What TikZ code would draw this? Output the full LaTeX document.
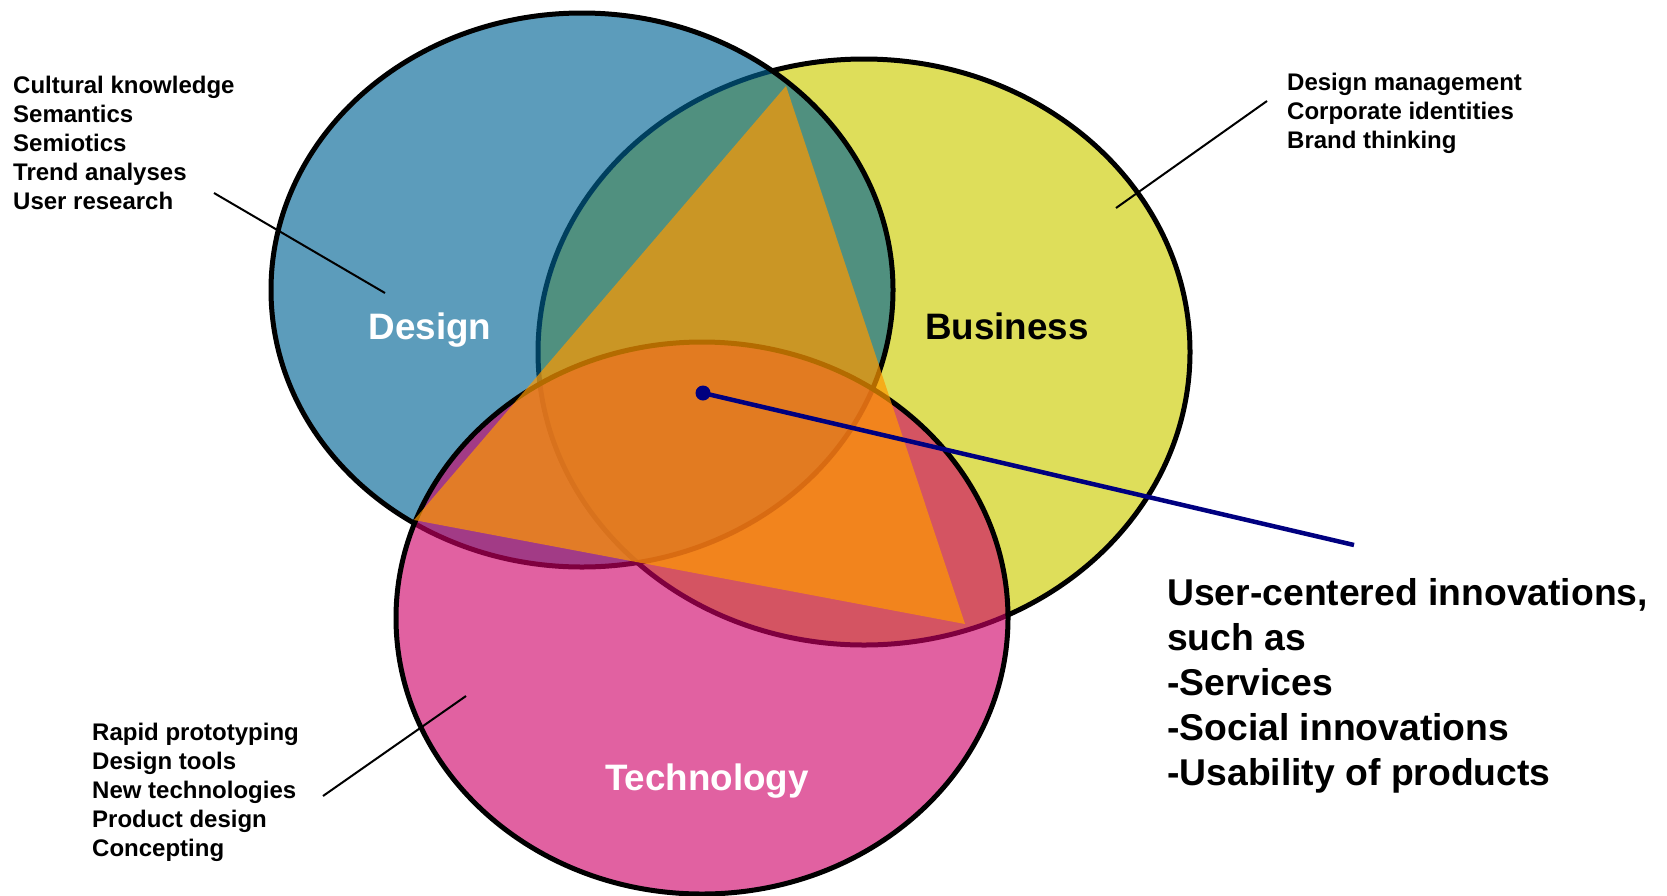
\documentclass[tikz,border=0pt]{standalone}
\usepackage{fontspec}
\setmainfont{Liberation Sans}
\definecolor{dsgn}{RGB}{0,100,148}
\definecolor{busn}{RGB}{222,222,90}
\definecolor{tech}{RGB}{206,0,103}
\definecolor{tri}{RGB}{255,153,0}
\definecolor{navy}{RGB}{0,0,128}
\tikzset{
  outline/.style={draw=black, line width=5pt},
  leader/.style={draw=black, line width=2pt},
  smalltxt/.style={anchor=north west, inner sep=0pt, align=left, font=\fontsize{24}{29}\selectfont\bfseries},
  bigtxt/.style={anchor=north west, inner sep=0pt, align=left, font=\fontsize{37.3}{45}\selectfont\bfseries},
  label/.style={inner sep=0pt, font=\fontsize{36.8}{44}\selectfont\bfseries}
}
\begin{document}
\begin{tikzpicture}[x=1pt, y=-1pt]
\useasboundingbox (0,0) rectangle (1667,895);
% circles
\path[outline, fill=busn] (864,352) ellipse [x radius=326pt, y radius=293pt];
\path[fill=dsgn, fill opacity=0.64] (582,290) ellipse [x radius=311pt, y radius=277pt];
\path[outline] (582,290) ellipse [x radius=311pt, y radius=277pt];
\path[fill=tech, fill opacity=0.62] (702,618) ellipse [x radius=306pt, y radius=276pt];
\path[outline] (702,618) ellipse [x radius=306pt, y radius=276pt];
% triangle
\coordinate (t1) at (786,86);
\coordinate (t2) at (414,520);
\coordinate (t3) at (965,624);
\fill[tri, fill opacity=0.7] (t1) -- (t2) -- (t3) -- cycle;
% labels
\node[label, text=white] (ldesign) at (430,330) {Design};
\node[label, text=black] (lbusiness) at (1007,326) {Business};
\node[label, text=white] (ltech) at (707,781) {Technology};
% text blocks
\node[smalltxt] (tdesign) at (13,76) {Cultural knowledge\\Semantics\\Semiotics\\Trend analyses\\User research};
\node[smalltxt] (tbusiness) at (1287,73) {Design management\\Corporate identities\\Brand thinking};
\node[smalltxt] (ttech) at (92,723) {Rapid prototyping\\Design tools\\New technologies\\Product design\\Concepting};
\node[bigtxt] (tuser) at (1167,578) {User-centered innovations,\\such as\\-Services\\-Social innovations\\-Usability of products};
% leader lines
\coordinate (d1) at (214,193); \coordinate (d2) at (385,293);
\coordinate (b1) at (1267,101); \coordinate (b2) at (1116,208);
\coordinate (c1) at (466,696); \coordinate (c2) at (323,796);
\draw[leader] (d1) -- (d2);
\draw[leader] (b1) -- (b2);
\draw[leader] (c1) -- (c2);
% pointer
\coordinate (dot) at (703,393);
\coordinate (pend) at (1354,545);
\draw[navy, line width=4.5pt] (dot) -- (pend);
\fill[navy] (dot) circle [radius=7.5pt];
\end{tikzpicture}
\end{document}
